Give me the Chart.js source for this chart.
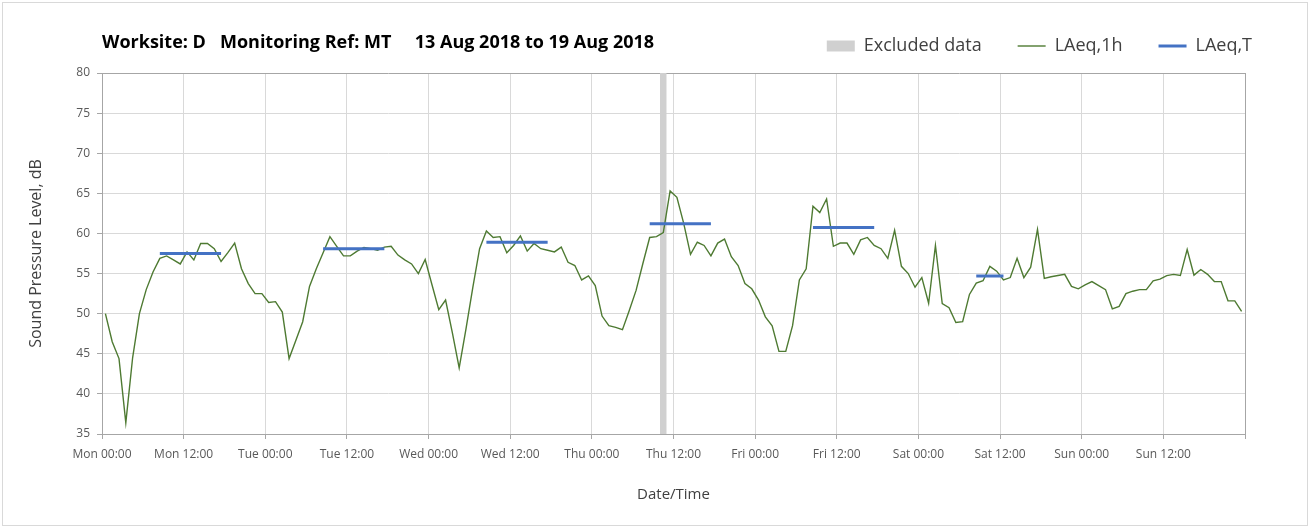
<!DOCTYPE html>
<html>
<head>
<meta charset="utf-8">
<script src="https://cdn.jsdelivr.net/npm/chart.js@4.4.1/dist/chart.umd.min.js"></script>
<style>
  html, body { margin: 0; padding: 0; background: #ffffff; }
  #wrap { position: relative; width: 1311px; height: 528px; }
  #frame { position: absolute; left: 2px; top: 2px; width: 1304px; height: 522px; border: 1px solid #d9d9d9; pointer-events: none; }
  canvas { display: block; }
</style>
</head>
<body>
<div id="wrap">
  <canvas id="c" width="1311" height="528"></canvas>
  <div id="frame"></div>
</div>
<script>
// ---- Data (hours measured from Mon 00:00) ----
const chartTitle = 'Worksite: D   Monitoring Ref: MT     13 Aug 2018 to 19 Aug 2018';

// Hourly LAeq,1h values, Mon 00:00-01:00 ... Sun 23:00-24:00
const laeq1h = [
  50.0, 46.5, 44.4, 36.4, 44.5, 50.0, 53.0, 55.2, 56.9, 57.2, 56.7, 56.2,
  57.7, 56.7, 58.75, 58.75, 58.1, 56.5, 57.6, 58.8, 55.6, 53.75, 52.5, 52.5,
  51.4, 51.5, 50.2, 44.4, 46.7, 49.0, 53.4, 55.6, 57.6, 59.6, 58.4, 57.2,
  57.2, 57.8, 58.25, 58.1, 57.9, 58.3, 58.4, 57.3, 56.7, 56.2, 55.0, 56.75,
  53.6, 50.5, 51.7, 47.6, 43.25, 48.1, 53.25, 58.1, 60.3, 59.5, 59.6, 57.6,
  58.5, 59.7, 57.8, 58.75, 58.1, 57.9, 57.7, 58.3, 56.4, 56.0, 54.2, 54.7,
  53.5, 49.7, 48.5, 48.3, 48.0, 50.4, 52.9, 56.25, 59.5, 59.6, 60.1, 65.3,
  64.5, 61.25, 57.4, 58.9, 58.5, 57.2, 58.8, 59.3, 57.1, 56.0, 53.75, 53.1,
  51.7, 49.6, 48.5, 45.3, 45.3, 48.5, 54.2, 55.6, 63.4, 62.6, 64.3, 58.4,
  58.8, 58.8, 57.4, 59.2, 59.5, 58.5, 58.1, 56.9, 60.4, 55.9, 55.0, 53.3,
  54.5, 51.3, 58.5, 51.25, 50.75, 48.9, 49.0, 52.4, 53.8, 54.1, 55.9, 55.3,
  54.2, 54.5, 56.9, 54.5, 55.8, 60.5, 54.4, 54.6, 54.75, 54.9, 53.4, 53.1,
  53.6, 54.0, 53.5, 53.0, 50.6, 50.9, 52.5, 52.8, 53.0, 53.0, 54.1, 54.3,
  54.75, 54.9, 54.75, 58.0, 54.8, 55.5, 54.9, 54.0, 54.0, 51.6, 51.6, 50.3
];
const hourMidOffset = 0.5; // each hourly value is plotted at the middle of its hour

// LAeq,T daytime periods (start / end hour) and values
const laeqTStart = [8.5, 32.5, 56.5, 80.5, 104.5, 128.5];
const laeqTEnd   = [17.5, 41.5, 65.5, 89.5, 113.5, 132.5];
const laeqTValue = [57.5, 58.1, 58.9, 61.2, 60.75, 54.7];

// Excluded data period (hours)
const excludedStart = [82];
const excludedEnd   = [83];

// Axes
const yMin = 35, yMax = 80, yStep = 5;
const xMin = 0, xMax = 168, xStep = 12;
const xTickLabels = ['Mon 00:00','Mon 12:00','Tue 00:00','Tue 12:00','Wed 00:00','Wed 12:00',
  'Thu 00:00','Thu 12:00','Fri 00:00','Fri 12:00','Sat 00:00','Sat 12:00','Sun 00:00','Sun 12:00',''];

// ---- Build datasets ----
const laeq1hPoints = laeq1h.map((v, i) => ({ x: i + hourMidOffset, y: v }));
const laeqTPoints = [];
laeqTValue.forEach((v, k) => {
  laeqTPoints.push({ x: laeqTStart[k], y: v });
  laeqTPoints.push({ x: laeqTEnd[k], y: v });
  laeqTPoints.push({ x: (laeqTEnd[k] + (laeqTStart[k + 1] ?? laeqTEnd[k] + 1)) / 2, y: null });
});
const excludedPoints = [];
excludedStart.forEach((s, k) => {
  excludedPoints.push({ x: s, y: yMax });
  excludedPoints.push({ x: excludedEnd[k], y: yMax });
  excludedPoints.push({ x: excludedEnd[k] + 0.5, y: null });
});

const AXIS = '#a6a6a6';
const GRID = '#d9d9d9';
const FONT = "'Open Sans', 'DejaVu Sans', sans-serif";

const legendShift = {
  id: 'legendShift',
  afterLayout(chart, args, opts) {
    const l = chart.legend;
    if (!l) return;
    l.left += opts.dx; l.right += opts.dx;
    l.top += opts.dy; l.bottom += opts.dy;
  }
};

new Chart(document.getElementById('c'), {
  type: 'line',
  data: {
    datasets: [
      {
        label: 'Excluded data',
        data: excludedPoints,
        backgroundColor: '#d0d0d0',
        borderColor: '#d0d0d0',
        borderWidth: 0,
        fill: 'start',
        pointRadius: 0,
        pointStyle: 'rect',
        spanGaps: false,
        order: 3
      },
      {
        label: 'LAeq,1h',
        data: laeq1hPoints,
        borderColor: '#4e7a32',
        backgroundColor: '#4e7a32',
        borderWidth: 1.4,
        pointRadius: 0,
        pointStyle: 'line',
        tension: 0,
        fill: false,
        order: 2
      },
      {
        label: 'LAeq,T',
        data: laeqTPoints,
        borderColor: '#4472c4',
        backgroundColor: '#4472c4',
        borderWidth: 3,
        pointRadius: 0,
        pointStyle: 'line',
        spanGaps: false,
        fill: false,
        order: 1
      }
    ]
  },
  options: {
    responsive: false,
    devicePixelRatio: 1,
    animation: false,
    events: [],
    layout: { padding: { left: 0, right: 66, top: 9, bottom: 0 } },
    plugins: {
      tooltip: { enabled: false },
      title: {
        display: true,
        text: chartTitle,
        align: 'start',
        fullSize: false,
        color: '#000000',
        font: { family: FONT, size: 18, weight: 'bold' },
        padding: { top: 23, bottom: -44.6 }
      },
      legend: {
        display: true,
        position: 'top',
        align: 'end',
        labels: {
          usePointStyle: true,
          pointStyleWidth: 28,
          boxHeight: 11,
          padding: 36,
          color: '#404040',
          font: { family: FONT, size: 18 },
          sort: (a, b) => a.datasetIndex - b.datasetIndex
        }
      },
      legendShift: { dx: 43, dy: -8 }
    },
    scales: {
      x: {
        type: 'linear',
        min: xMin,
        max: xMax,
        afterFit: s => { s.height = 94; },
        ticks: {
          stepSize: xStep,
          autoSkip: false,
          maxRotation: 0,
          padding: 8,
          color: '#595959',
          font: { family: FONT, size: 12 },
          callback: (v, i) => xTickLabels[i]
        },
        grid: {
          color: c => (c.tick && c.tick.value === xMax) ? AXIS : GRID,
          tickColor: AXIS,
          tickLength: 5
        },
        border: { color: AXIS, width: 1 },
        title: {
          display: true,
          text: 'Date/Time',
          color: '#404040',
          font: { family: FONT, size: 15 },
          padding: { top: 0, bottom: 24 }
        }
      },
      y: {
        min: yMin,
        max: yMax,
        afterFit: s => { s.width = 102; },
        ticks: {
          stepSize: yStep,
          padding: 7,
          color: '#595959',
          font: { family: FONT, size: 12 }
        },
        grid: {
          color: c => (c.tick && c.tick.value === yMax) ? AXIS : GRID,
          tickColor: AXIS,
          tickLength: 5
        },
        border: { color: AXIS, width: 1 },
        title: {
          display: true,
          text: 'Sound Pressure Level, dB',
          color: '#404040',
          font: { family: FONT, size: 16 },
          padding: { top: 27, bottom: 0 }
        }
      }
    }
  },
  plugins: [legendShift]
});
</script>
</body>
</html>
